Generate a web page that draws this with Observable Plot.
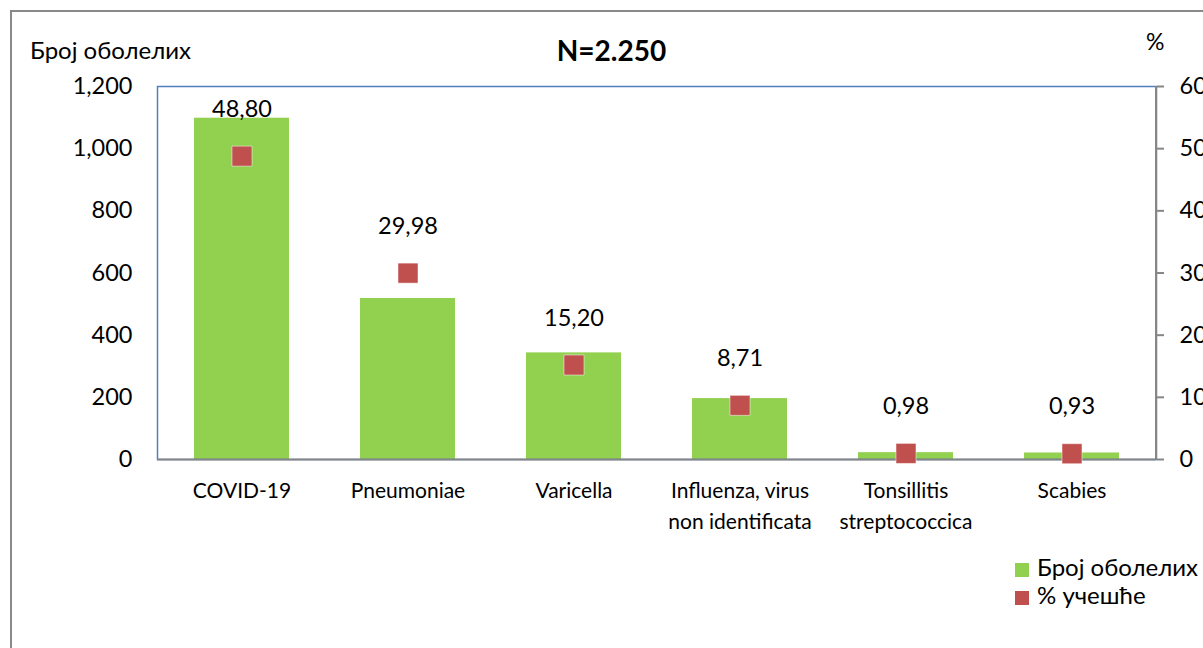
<!DOCTYPE html>
<html>
<head>
<meta charset="utf-8">
<script src="https://cdn.jsdelivr.net/npm/d3@7"></script>
<script src="https://cdn.jsdelivr.net/npm/@observablehq/plot@0.6"></script>
<style>
  html, body { margin: 0; padding: 0; background: #fff; }
  #wrap { position: relative; width: 1203px; height: 648px; overflow: hidden; font-family: Lato, "Open Sans", sans-serif; color: #000; }
  #border { position: absolute; left: 10px; top: 10px; width: 1300px; height: 800px; border-left: 2px solid #898989; border-top: 2px solid #898989; }
  .lbl { position: absolute; white-space: nowrap; }
  #chart { position: absolute; left: 0; top: 0; }
  .sw { display: inline-block; width: 14px; height: 14px; vertical-align: middle; margin-right: 8px; }
</style>
</head>
<body>
<div id="wrap">
  <div id="border"></div>
  <div id="chart"></div>
  <div class="lbl" style="left:30px; top:35px; font-size:24px;">Број оболелих</div>
  <div class="lbl" style="left:0; width:1223px; text-align:center; top:33px; font-size:28px; font-weight:bold;">N=2.250</div>
  <div class="lbl" style="left:1146px; top:27px; font-size:23px;">%</div>
  <div class="lbl" style="left:1015px; top:553px; font-size:24px; line-height:28px;">
    <div><span class="sw" style="background:#92d050"></span>Број оболелих</div>
    <div><span class="sw" style="background:#c0504d"></span>% учешће</div>
  </div>
</div>
<script>
const categories = ["COVID-19", "Pneumoniae", "Varicella", "Influenza, virus\nnon identificata", "Tonsillitis\nstreptococcica", "Scabies"];
const counts = [1098, 518, 343, 196, 22, 21];
const percents = [48.80, 29.98, 15.20, 8.71, 0.98, 0.93];
const percentLabels = ["48,80", "29,98", "15,20", "8,71", "0,98", "0,93"];
const leftTicks = [0, 200, 400, 600, 800, 1000, 1200];
const rightTicks = [0, 10, 20, 30, 40, 50, 60];

const ratio = 1200 / 60;
const data = categories.map((c, i) => ({cat: c, count: counts[i], pct: percents[i], label: percentLabels[i]}));

const rightLine = (index, scales, values, dimensions) => {
  const {width, height, marginRight, marginTop, marginBottom} = dimensions;
  const g = d3.create("svg:line")
    .attr("x1", width - marginRight).attr("x2", width - marginRight)
    .attr("y1", marginTop).attr("y2", height - marginBottom)
    .attr("stroke", "#868686").attr("stroke-width", 2);
  return g.node();
};

const plot = Plot.plot({
  width: 1203,
  height: 648,
  marginLeft: 157,
  marginRight: 47,
  marginTop: 86,
  marginBottom: 189,
  style: {fontFamily: "Lato, 'Open Sans', sans-serif", background: "transparent", overflow: "visible"},
  x: {domain: categories, paddingInner: 0.43, paddingOuter: 0.215, label: null},
  y: {domain: [0, 1200], label: null},
  marks: [
    Plot.barY(data, {x: "cat", y: "count", fill: "#92d050"}),
    Plot.frame({stroke: "#4f81bd", strokeWidth: 1.5}),
    Plot.ruleY([0], {stroke: "#868686", strokeWidth: 2}),
    rightLine,
    Plot.axisY({anchor: "left", ticks: leftTicks, tickSize: 0, tickPadding: 25, tickFormat: d3.format(","), fontSize: 23.5, label: null}),
    Plot.axisY({anchor: "right", ticks: rightTicks.map(t => t * ratio), tickSize: 7, tickPadding: 16, stroke: "#868686", strokeWidth: 2, tickFormat: d => String(d / ratio), fontSize: 23.5, label: null, textAnchor: "start"}),
    Plot.axisX({tickSize: 0, tickPadding: 17, fontSize: 21, lineHeight: 1.45, label: null}),
    Plot.dot(data, {x: "cat", y: d => d.pct * ratio, symbol: "square", r: 11.3, fill: "#c0504d", stroke: "#fff", strokeWidth: 0.5}),
    Plot.text(data, {x: "cat", y: d => d.pct * ratio, text: "label", dy: -47, fontSize: 23.5, fill: "#000"})
  ]
});
document.getElementById("chart").appendChild(plot);
</script>
</body>
</html>
